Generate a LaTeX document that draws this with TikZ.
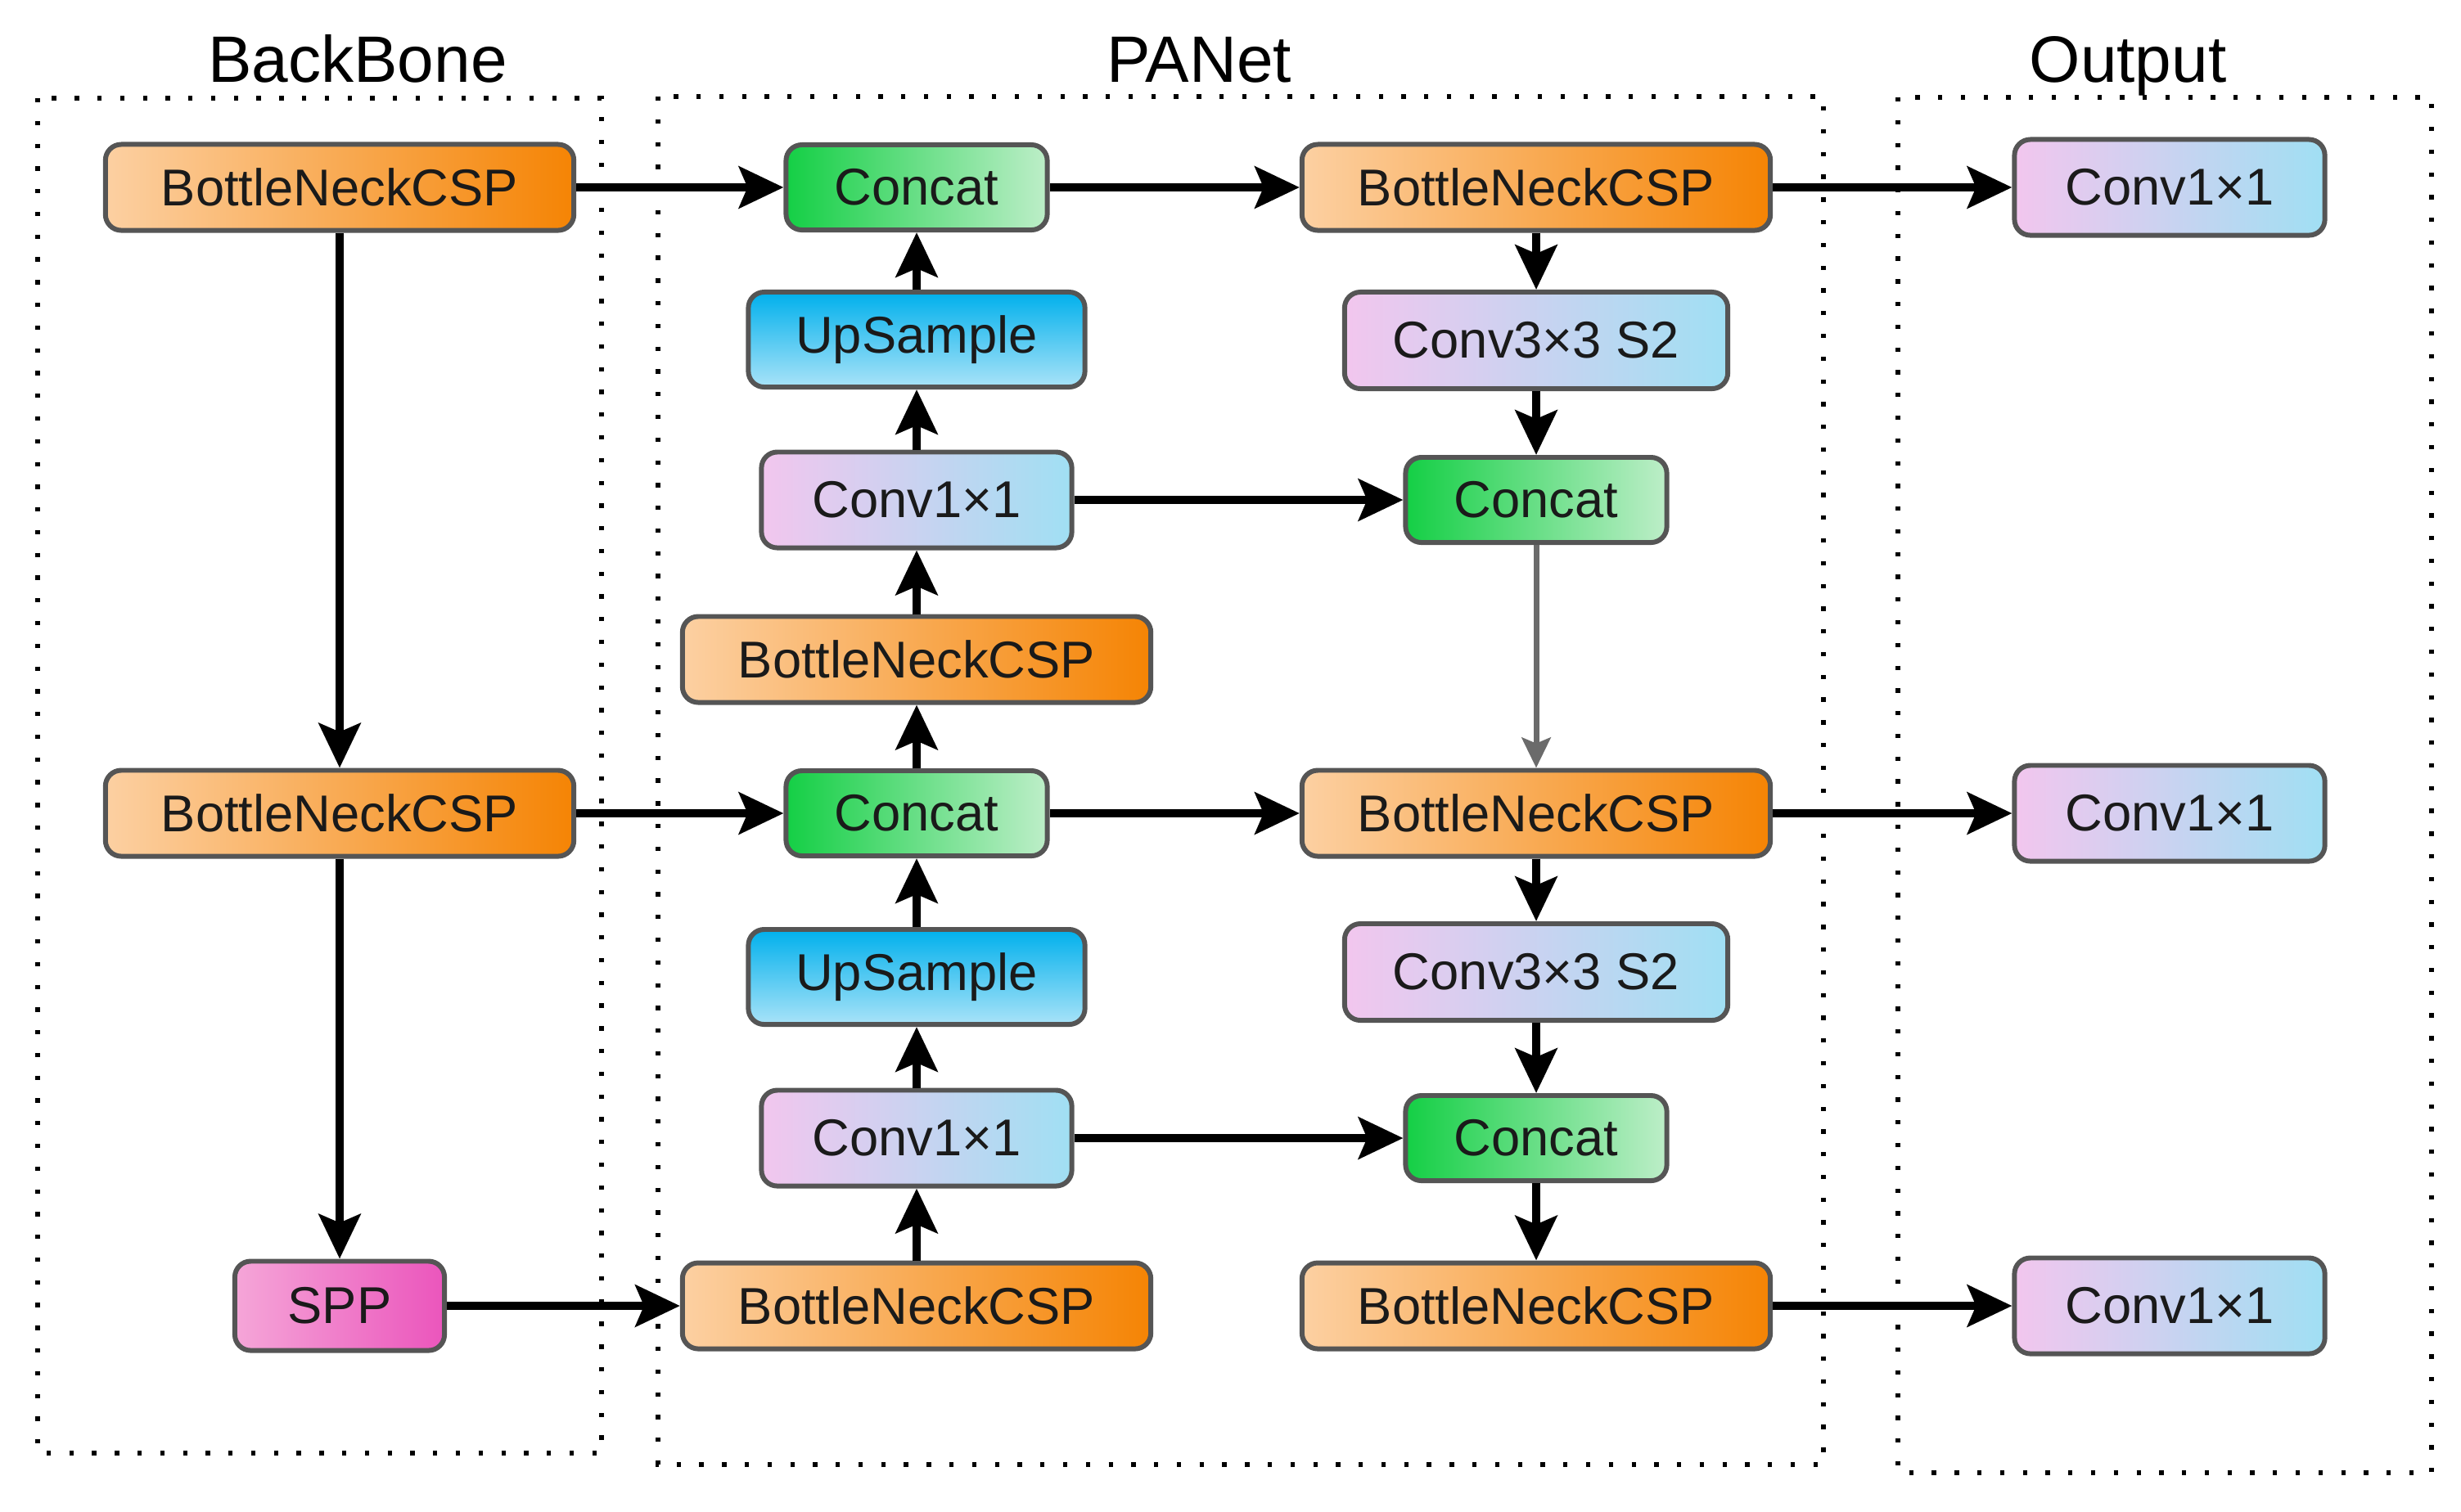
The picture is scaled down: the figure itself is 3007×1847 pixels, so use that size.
\documentclass[tikz,border=0pt]{standalone}
\usepackage{fontspec}
\setmainfont{Liberation Sans}
\usetikzlibrary{arrows.meta}
\definecolor{orL}{HTML}{FCD0A2}
\definecolor{orR}{HTML}{F58404}
\definecolor{grL}{HTML}{14CF45}
\definecolor{grR}{HTML}{BDEEC8}
\definecolor{upT}{HTML}{00B0EC}
\definecolor{upM}{HTML}{1BBBEF}
\definecolor{upB}{HTML}{A9E3F8}
\definecolor{cvL}{HTML}{F2C6EE}
\definecolor{cvR}{HTML}{A0DFF3}
\definecolor{spL}{HTML}{F5A6D8}
\definecolor{spR}{HTML}{EB55BC}
\definecolor{bord}{HTML}{555555}
\definecolor{txt}{HTML}{1A1A1A}
\begin{document}
\begin{tikzpicture}[x=0.01cm,y=-0.01cm,
 blk/.style={draw=bord, line width=1.7pt, rounded corners=5.5pt, inner sep=0pt,
   font=\fontsize{18}{21}\selectfont, text=txt},
 bncsp/.style={blk, minimum width=5.72cm, minimum height=1.05cm, left color=orL, right color=orR},
 concat/.style={blk, minimum width=3.19cm, minimum height=1.04cm, left color=grL, right color=grR},
 upsmp/.style={blk, minimum width=4.11cm, minimum height=1.16cm, top color=upT, middle color=upM, bottom color=upB},
 convone/.style={blk, minimum width=3.79cm, minimum height=1.17cm, left color=cvL, right color=cvR},
 convthree/.style={blk, minimum width=4.68cm, minimum height=1.18cm, left color=cvL, right color=cvR},
 sppbox/.style={blk, minimum width=2.56cm, minimum height=1.09cm, left color=spL, right color=spR},
 arr/.style={line width=2.8pt, -{Stealth[length=15.5pt,width=14.5pt,inset=3pt]}},
 garr/.style={line width=2pt, draw=black!58, -{Stealth[length=10.5pt,width=10pt,inset=2pt]}},
 dotbox/.style={line width=1.5pt, dash pattern=on 1.5pt off 6.4pt},
 ttl/.style={font=\fontsize{22.8}{26}\selectfont, anchor=base, inner sep=0pt}
]
\useasboundingbox (0,0) rectangle (3007,1847);

% titles
\node[ttl] (tbb) at (437,100) {BackBone};
\node[ttl] (tpa) at (1465,100) {PANet};
\node[ttl] (tou) at (2600,100) {Output};

% dotted group boxes
\draw[dotbox] (46,120) rectangle (735,1776);
\draw[dotbox] (804,118) rectangle (2228,1790);
\draw[dotbox] (2319,119) rectangle (2971,1800);

% backbone
\node[bncsp] (bb1) at (415,229) {BottleNeckCSP};
\node[bncsp] (bb2) at (415,994) {BottleNeckCSP};
\node[sppbox] (spp) at (415,1596) {SPP};

% PANet left column
\node[concat] (c1) at (1120,229) {Concat};
\node[upsmp] (u1) at (1120,415) {UpSample};
\node[convone] (k1) at (1120,611) {Conv1×1};
\node[bncsp] (b3) at (1120,806) {BottleNeckCSP};
\node[concat] (c2) at (1120,994) {Concat};
\node[upsmp] (u2) at (1120,1194) {UpSample};
\node[convone] (k2) at (1120,1391) {Conv1×1};
\node[bncsp] (b4) at (1120,1596) {BottleNeckCSP};

% PANet right column
\node[bncsp] (r1) at (1877,229) {BottleNeckCSP};
\node[convthree] (s1) at (1877,416) {Conv3×3 S2};
\node[concat] (rc1) at (1877,611) {Concat};
\node[bncsp] (r2) at (1877,994) {BottleNeckCSP};
\node[convthree] (s2) at (1877,1188) {Conv3×3 S2};
\node[concat] (rc2) at (1877,1391) {Concat};
\node[bncsp] (r3) at (1877,1596) {BottleNeckCSP};

% outputs
\node[convone] (o1) at (2651,229) {Conv1×1};
\node[convone] (o2) at (2651,994) {Conv1×1};
\node[convone] (o3) at (2651,1596) {Conv1×1};

% connectors: backbone
\draw[arr] (bb1.south) -- (bb2.north);
\draw[arr] (bb2.south) -- (spp.north);
\draw[arr] (bb1.east) -- (c1.west);
\draw[arr] (bb2.east) -- (c2.west);
\draw[arr] (spp.east) -- (b4.west);

% PANet upward path
\draw[arr] (b4.north) -- (k2.south);
\draw[arr] (k2.north) -- (u2.south);
\draw[arr] (u2.north) -- (c2.south);
\draw[arr] (c2.north) -- (b3.south);
\draw[arr] (b3.north) -- (k1.south);
\draw[arr] (k1.north) -- (u1.south);
\draw[arr] (u1.north) -- (c1.south);

% lateral
\draw[arr] (c1.east) -- (r1.west);
\draw[arr] (k1.east) -- (rc1.west);
\draw[arr] (c2.east) -- (r2.west);
\draw[arr] (k2.east) -- (rc2.west);

% PANet downward path
\draw[arr] (r1.south) -- (s1.north);
\draw[arr] (s1.south) -- (rc1.north);
\draw[garr] (rc1.south) -- (r2.north);
\draw[arr] (r2.south) -- (s2.north);
\draw[arr] (s2.south) -- (rc2.north);
\draw[arr] (rc2.south) -- (r3.north);

% outputs
\draw[arr] (r1.east) -- (o1.west);
\draw[arr] (r2.east) -- (o2.west);
\draw[arr] (r3.east) -- (o3.west);
\end{tikzpicture}
\end{document}
